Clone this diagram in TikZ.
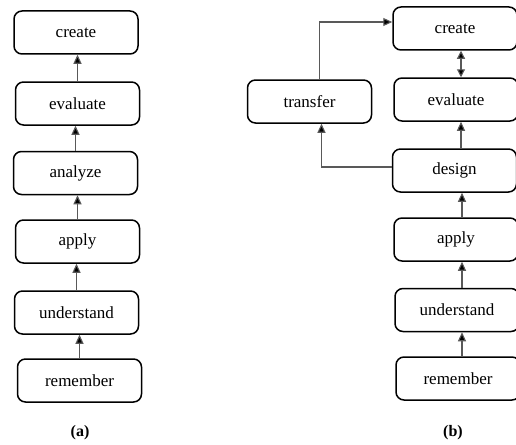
\documentclass[tikz,border=0pt]{standalone}
\usepackage{fontspec}
\setmainfont{Liberation Serif}
\usetikzlibrary{arrows.meta}
\begin{document}
\begin{tikzpicture}[x=1pt,y=-1pt,
  level/.style={draw=black,line width=1.5pt,rounded corners=8pt,
    minimum width=124pt,minimum height=43pt,inner sep=0pt,
    font=\fontsize{17}{19}\selectfont},
  link/.style={draw=black!65,line width=1.1pt,
    -{Triangle[length=9pt,width=8pt,fill=black]}},
  twoway/.style={draw=black!65,line width=1.1pt,
    {Triangle[length=8pt,width=8pt,fill=black]}-{Triangle[length=8pt,width=8pt,fill=black]}},
  caption/.style={font=\fontsize{16}{18}\selectfont\bfseries}]
\useasboundingbox[fill=white] (0,0) rectangle (516,444);

% (a) the plain hierarchy
\node[level] (ca) at (76,32.5)   {create};
\node[level] (ea) at (77.5,103.5) {evaluate};
\node[level] (na) at (75.5,173)  {analyze};
\node[level] (pa) at (77.5,241.5) {apply};
\node[level] (ua) at (76.5,312.5) {understand};
\node[level] (ra) at (79.5,380.5) {remember};
\node[caption] (capa) at (80,433) {(a)};

\draw[link] (ea.north) -- (ea.north |- ca.south);
\draw[link] (na.north) -- (na.north |- ea.south);
\draw[link] (pa.north) -- (pa.north |- na.south);
\draw[link] (ua.north) -- (ua.north |- pa.south);
\draw[link] (ra.north) -- (ra.north |- ua.south);

% (b) the hierarchy with design and transfer
\node[level] (cb) at (455,28.5)  {create};
\node[level] (eb) at (456,99.5)  {evaluate};
\node[level] (tb) at (309.5,101.5) {transfer};
\node[level] (db) at (454.5,170.5) {design};
\node[level] (pb) at (456,239.5) {apply};
\node[level] (ub) at (457,310)   {understand};
\node[level] (rb) at (458,378.5) {remember};
\node[caption] (capb) at (453,433) {(b)};

\draw[twoway] ([xshift=5pt]eb.north) -- ([xshift=5pt]eb.north |- cb.south);
\draw[link] ([xshift=6.5pt]db.north) -- ([xshift=6.5pt]db.north |- eb.south);
\draw[link] ([xshift=6pt]pb.north) -- ([xshift=6pt]pb.north |- db.south);
\draw[link] ([xshift=5pt]ub.north) -- ([xshift=5pt]ub.north |- pb.south);
\draw[link] ([xshift=4pt]rb.north) -- ([xshift=4pt]rb.north |- ub.south);

\draw[link] ([xshift=10pt]tb.north) |- ([yshift=6.5pt]cb.west);
\draw[link] ([yshift=3.5pt]db.west) -| ([xshift=12pt]tb.south);
\end{tikzpicture}
\end{document}
